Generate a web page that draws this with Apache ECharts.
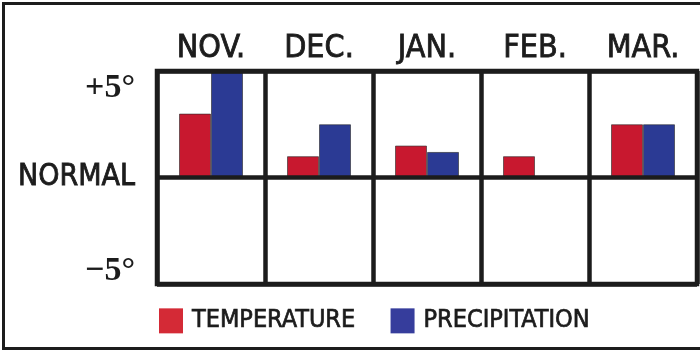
<!DOCTYPE html>
<html>
<head>
<meta charset="utf-8">
<script src="https://cdn.jsdelivr.net/npm/echarts@6/dist/echarts.min.js"></script>
<style>
html,body{margin:0;padding:0;background:#fff;overflow:hidden;}
#c{position:absolute;left:0;top:0;width:700px;height:356px;}
</style>
</head>
<body>
<div id="c"></div>
<script>
const months = ['NOV.', 'DEC.', 'JAN.', 'FEB.', 'MAR.'];
const temperature = [3, 1, 1.5, 1, 2.5];
const precipitation = [5, 2.5, 1.2, 0, 2.5];
const yTicks = {'-5': '\u22125°', '0': 'NORMAL', '5': '+5°'};

const NARROW = '"DejaVu Sans Condensed", "Liberation Sans Narrow", sans-serif';
const SERIF = '"Liberation Serif", "DejaVu Serif", serif';
const INK = '#1c1c1c';

const chart = echarts.init(document.getElementById('c'), null, {renderer: 'canvas'});
chart.setOption({
  backgroundColor: '#fff',
  animation: false,
  graphic: [{
    type: 'rect', left: 1, top: 1, silent: true,
    shape: {x: 0, y: 0, width: 730, height: 345},
    style: {fill: 'none', stroke: INK, lineWidth: 3}
  }],
  grid: {left: 157, right: 3, top: 71, bottom: 72, show: true, z: 3,
    borderColor: INK, borderWidth: 4.5, backgroundColor: 'transparent'},
  legend: {
    left: 154, top: 303, itemWidth: 24, itemHeight: 25, itemGap: 35, icon: 'rect',
    textStyle: {fontFamily: NARROW, fontSize: 25, color: INK, padding: [0, 0, 0, 4],
      textBorderColor: INK, textBorderWidth: 0.7},
    data: [
      {name: 'TEMPERATURE', itemStyle: {color: '#d42a36', borderWidth: 0}},
      {name: 'PRECIPITATION', itemStyle: {color: '#363d9c', borderWidth: 0}}
    ]
  },
  xAxis: {
    type: 'category', position: 'top', data: months, z: 3,
    axisLine: {show: false}, axisTick: {show: false},
    axisLabel: {interval: 0, fontFamily: NARROW, fontSize: 32, color: INK, margin: 6,
      textBorderColor: INK, textBorderWidth: 0.8},
    splitLine: {show: true, interval: 0, lineStyle: {color: INK, width: 4.5}}
  },
  yAxis: {
    type: 'value', min: -5, max: 5, interval: 5, z: 3,
    axisLine: {show: false}, axisTick: {show: false},
    splitLine: {show: true, lineStyle: {color: INK, width: 4.5}},
    axisLabel: {
      margin: 22, color: INK,
      formatter: v => {
        const t = yTicks[String(v)];
        if (v > 0) return '{p|' + t + '}';
        if (v < 0) return '{m|' + t + '}';
        return '{n|' + t + '}';
      },
      rich: {
        p: {fontFamily: SERIF, fontWeight: 'bold', fontSize: 34, color: INK, padding: [34, 0, 0, 0]},
        m: {fontFamily: SERIF, fontWeight: 'bold', fontSize: 34, color: INK, padding: [0, 0, 26, 0]},
        n: {fontFamily: NARROW, fontSize: 30, color: INK, textBorderColor: INK, textBorderWidth: 0.8}
      }
    }
  },
  series: [
    {name: 'TEMPERATURE', type: 'bar', data: temperature, barWidth: 32, barGap: '0%',
      itemStyle: {color: '#c8182f', borderColor: 'rgba(40,40,40,0.6)', borderWidth: 1}},
    {name: 'PRECIPITATION', type: 'bar', data: precipitation, barWidth: 32, barGap: '0%',
      itemStyle: {color: '#2b3a94', borderColor: 'rgba(40,40,40,0.6)', borderWidth: 1}}
  ]
});
</script>
</body>
</html>
